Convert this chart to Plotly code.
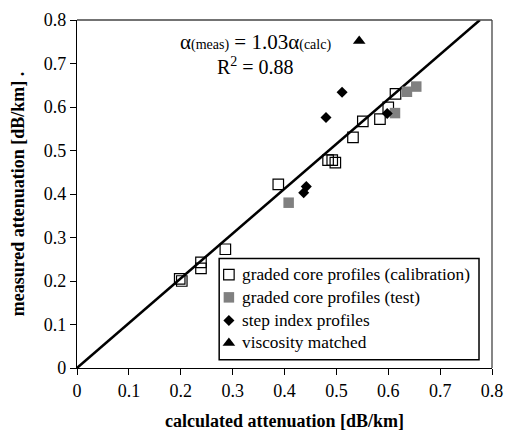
import plotly.graph_objects as go

# measured vs calculated attenuation [dB/km]
calib_x = [0.198, 0.202, 0.239, 0.239, 0.286, 0.388, 0.484, 0.492, 0.498, 0.532, 0.551, 0.584, 0.600, 0.614]
calib_y = [0.205, 0.200, 0.243, 0.229, 0.273, 0.422, 0.478, 0.478, 0.472, 0.530, 0.567, 0.572, 0.599, 0.630]

test_x = [0.408, 0.613, 0.636, 0.654]
test_y = [0.380, 0.586, 0.635, 0.647]

step_x = [0.437, 0.442, 0.480, 0.511, 0.598]
step_y = [0.403, 0.417, 0.576, 0.634, 0.585]

visc_x = [0.544]
visc_y = [0.752]

slope = 1.03
r_squared = 0.88
axis_max = 0.8
ticks = [0, 0.1, 0.2, 0.3, 0.4, 0.5, 0.6, 0.7, 0.8]
tick_text = ["0", "0.1", "0.2", "0.3", "0.4", "0.5", "0.6", "0.7", "0.8"]

series_names = ["graded core profiles (calibration)", "graded core profiles (test)",
                "step index profiles", "viscosity matched"]

SERIF = "Liberation Serif"

marker_styles = [
    dict(symbol="square-open", size=10.5, color="black", line=dict(width=1.2)),
    dict(symbol="square", size=10.5, color="#808080"),
    dict(symbol="diamond", size=8.5, color="black"),
    dict(symbol="triangle-up", size=11, color="black"),
]

fig = go.Figure()

# fitted line through the origin
fit_x = [0, axis_max / slope]
fig.add_trace(go.Scatter(x=fit_x, y=[slope * v for v in fit_x], mode="lines",
                         line=dict(color="black", width=2.5), showlegend=False,
                         hoverinfo="skip"))

for xs, ys, name, mk in zip([calib_x, test_x, step_x, visc_x],
                            [calib_y, test_y, step_y, visc_y],
                            series_names, marker_styles):
    fig.add_trace(go.Scatter(x=xs, y=ys, mode="markers", name=name, marker=mk,
                             showlegend=False))

axis_common = dict(range=[0, axis_max], tickvals=ticks, ticktext=tick_text,
                   showgrid=False, zeroline=False, showline=True, linecolor="black",
                   linewidth=1.3, ticks="outside", ticklen=6, tickcolor="black",
                   automargin=False,
                   tickfont=dict(family=SERIF, size=18, color="black"))

fig.update_xaxes(**axis_common,
                 title=dict(text="<b>calculated attenuation [dB/km]</b>",
                            font=dict(family=SERIF, size=18, color="black"),
                            standoff=14))
fig.update_yaxes(**axis_common,
                 title=dict(text="<b>measured attenuation [dB/km] .</b>",
                            font=dict(family=SERIF, size=18, color="black"),
                            standoff=14))

# top and right frame
fig.add_shape(type="line", xref="paper", yref="paper", x0=0, x1=1, y0=1, y1=1,
              line=dict(color="#444", width=1.3))
fig.add_shape(type="line", xref="paper", yref="paper", x0=1, x1=1, y0=0, y1=1,
              line=dict(color="#444", width=1.3))

# boxed key in the lower right of the plot area
key_left, key_right, key_bottom, key_top = 0.3426, 0.9687, 0.024, 0.3143
key_rows = [0.2682, 0.2030, 0.1366, 0.0719]
key_symbol_x = 0.366
key_text_x = 0.392
fig.add_shape(type="rect", xref="paper", yref="paper", x0=key_left, x1=key_right,
              y0=key_bottom, y1=key_top, fillcolor="white",
              line=dict(color="black", width=1.5), layer="below")

# key symbols drawn on an overlay axis spanning the plot area
fig.update_layout(
    xaxis2=dict(overlaying="x", range=[0, 1], visible=False, fixedrange=True),
    yaxis2=dict(overlaying="y", range=[0, 1], visible=False, fixedrange=True),
)
for row_y, name, mk in zip(key_rows, series_names, marker_styles):
    fig.add_trace(go.Scatter(x=[key_symbol_x], y=[row_y], xaxis="x2", yaxis="y2",
                             mode="markers", marker=mk, showlegend=False,
                             hoverinfo="skip"))
    fig.add_annotation(xref="paper", yref="paper", x=key_text_x, y=row_y,
                       xanchor="left", yanchor="middle", showarrow=False,
                       text=name, font=dict(family=SERIF, size=17.3, color="black"))

fig.add_annotation(xref="paper", yref="paper", x=0.4305, y=0.938,
                   xanchor="center", yanchor="middle", showarrow=False,
                   text="α<span style='font-size:14px'>(meas)</span> = %.2fα<span style='font-size:14px'>(calc)</span>" % slope,
                   font=dict(family=SERIF, size=21, color="black"))
fig.add_annotation(xref="paper", yref="paper", x=0.4305, y=0.867,
                   xanchor="center", yanchor="middle", showarrow=False,
                   text="R<sup>2</sup> = %.2f" % r_squared,
                   font=dict(family=SERIF, size=20, color="black"))

fig.update_layout(
    width=505, height=437,
    margin=dict(l=77, r=13, t=20, b=69),
    paper_bgcolor="white", plot_bgcolor="white",
    showlegend=False,
)

fig.write_html("out.html")
